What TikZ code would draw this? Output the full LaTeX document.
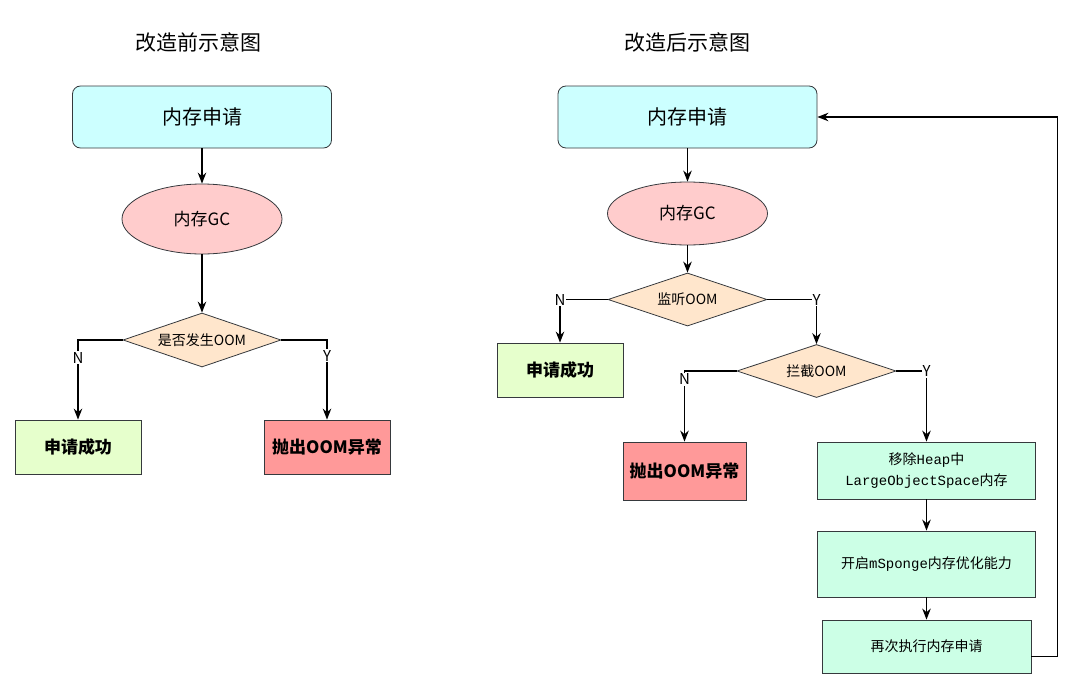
\documentclass[tikz,border=0pt]{standalone}
\usepackage{fontspec}
\setmainfont{Noto Sans CJK SC}
\setmonofont{Liberation Mono}
\usetikzlibrary{shapes.geometric, arrows.meta, positioning}

\definecolor{boxline}{HTML}{36393D}
\definecolor{reqcyan}{HTML}{CCFFFF}
\definecolor{gcpink}{HTML}{FFCCCC}
\definecolor{condpeach}{HTML}{FFE6CC}
\definecolor{okgreen}{HTML}{E6FFCC}
\definecolor{failred}{HTML}{FF9999}
\definecolor{fixmint}{HTML}{CCFFE6}

\begin{document}
\begin{tikzpicture}[x=1pt, y=-1pt, line width=1.5pt, >={Stealth[length=11pt, width=8.5pt]},
    base/.style = {draw=boxline, line width=0.8pt, inner sep=2pt, align=center},
    start/.style = {base, rectangle, rounded corners=8pt, fill=reqcyan, minimum width=259pt, minimum height=62pt, font=\fontsize{20}{24}\selectfont},
    gc/.style = {base, ellipse, fill=gcpink, minimum width=160pt, minimum height=70pt, font=\fontsize{17}{20}\selectfont},
    cond/.style = {base, diamond, aspect=2.9, inner sep=0pt, fill=condpeach, minimum width=158pt, minimum height=54pt, font=\fontsize{14}{17}\selectfont},
    ok/.style = {base, rectangle, fill=okgreen, minimum width=126pt, minimum height=54pt, font=\bfseries\fontsize{17}{20}\selectfont},
    fail/.style = {base, rectangle, fill=failred, minimum width=126pt, minimum height=54pt, font=\bfseries\fontsize{17}{20}\selectfont},
    fix/.style = {base, rectangle, fill=fixmint, minimum width=218pt, minimum height=57pt, font=\fontsize{14}{21}\selectfont},
    lbl/.style = {fill=white, inner sep=1pt, font=\fontsize{15}{17}\selectfont},
    title/.style = {font=\fontsize{21}{25}\selectfont}]
    \useasboundingbox (0,0) rectangle (1080,688);

    % before
    \node[title] (t1) at (198,42) {改造前示意图};
    \node[start] (1) at (202,117)                {内存申请};
    \node[gc]    (2) at (202,219)                {内存GC};
    \node[cond]  (3) at (202,340)                {是否发生OOM};
    \node[ok]    (4) at (78,447)                 {申请成功};
    \node[fail]  (5) at (327,447)                {抛出OOM异常};

    \draw[->] (1) to (2);
    \draw[->] (2) to (3);
    \draw[->] (3.west) -| node[lbl, pos=0.61] {N} (4.north);
    \draw[->] (3.east) -| node[lbl, pos=0.6] {Y} (5.north);

    % after
    \node[title] (t2) at (687,42) {改造后示意图};
    \node[start] (6)  at (687.5,117)             {内存申请};
    \node[gc, minimum height=63pt] (7) at (687.5,213.5) {内存GC};
    \node[cond, minimum width=159pt, minimum height=53pt] (8) at (687.5,299.5) {监听OOM};
    \node[ok]    (9)  at (560,370)               {申请成功};
    \node[cond, minimum width=159pt, minimum height=53pt] (10) at (816.5,371) {拦截OOM};
    \node[fail, minimum width=123pt, minimum height=58pt] (11) at (684.5,471) {抛出OOM异常};
    \node[fix]   (12) at (926.5,470.5)           {移除\texttt{Heap}中\\\texttt{LargeObjectSpace}内存};
    \node[fix, minimum height=66pt] (13) at (926.5,564) {开启\texttt{mSponge}内存优化能力};
    \node[fix, minimum width=209pt, minimum height=53pt] (14) at (926.5,646.5) {再次执行内存申请};

    \draw[->] (6) to (7);
    \draw[->] (7) to (8);
    \draw[->] (8.west) -| node[lbl, pos=0.5] {N} (9.north);
    \draw[->] (8.east) -| node[lbl, pos=0.5] {Y} (10.north);
    \draw[->] (10.west) -| node[lbl, pos=0.56] {N} (11.north);
    \draw[->] (10.east) -| node[lbl, pos=0.5] {Y} (12.north);
    \draw[->] (12) to (13);
    \draw[->] (13) to (14);
    \draw[->] ([yshift=-10pt]14.east) -- ++(26,0) |- (6.east);
\end{tikzpicture}
\end{document}
